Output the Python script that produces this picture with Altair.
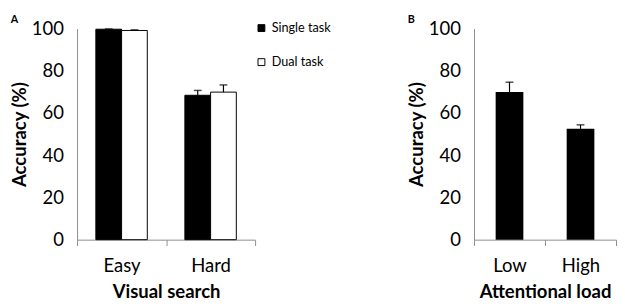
import altair as alt
import pandas as pd

# Panel A data
cond_a = ["Easy", "Easy", "Hard", "Hard"]
task_a = ["Single task", "Dual task", "Single task", "Dual task"]
acc_a = [99.7, 99.1, 68.4, 69.9]
err_a = [0.1, 0.3, 2.3, 3.4]

# Panel B data
cond_b = ["Low", "High"]
acc_b = [70.0, 52.5]
err_b = [4.6, 1.9]

tasks = ["Single task", "Dual task"]
FONT = "Lato"
GRAY = "#8c8c8c"

df_a = pd.DataFrame({"cond": cond_a, "task": task_a, "acc": acc_a, "err": err_a})
df_a["hi"] = df_a["acc"] + df_a["err"]
df_b = pd.DataFrame({"cond": cond_b, "acc": acc_b, "err": err_b})
df_b["hi"] = df_b["acc"] + df_b["err"]

yscale = alt.Scale(domain=[0, 100])
yaxis = alt.Axis(values=[0, 20, 40, 60, 80, 100], grid=False, ticks=False,
                 domainColor=GRAY, labelFont=FONT, labelFontSize=19, labelColor="black",
                 labelPadding=14, title="Accuracy (%)", titleFont=FONT, titleFontSize=19,
                 titleFontWeight="bold", titleColor="black", titlePadding=2)


def xaxis(title):
    return alt.Axis(title=title, labelAngle=0, tickBand="extent", tickSize=6,
                    tickColor=GRAY, domainColor=GRAY, labelFont=FONT, labelFontSize=19,
                    labelColor="black", labelPadding=12, titleFont=FONT, titleFontSize=19,
                    titleFontWeight="bold", titleColor="black", titlePadding=7)


xa = alt.X("cond:N", sort=["Easy", "Hard"], scale=alt.Scale(paddingInner=0, paddingOuter=0),
           axis=xaxis("Visual search"))
xoff = alt.XOffset("task:N", sort=tasks, scale=alt.Scale(paddingOuter=0.73, paddingInner=0))

base_a = alt.Chart(df_a)
bars_a = base_a.mark_bar(stroke="black", strokeWidth=1).encode(
    x=xa, xOffset=xoff,
    y=alt.Y("acc:Q", scale=yscale, axis=yaxis),
    fill=alt.Fill("task:N", sort=tasks,
                  scale=alt.Scale(domain=tasks, range=["black", "white"]),
                  legend=alt.Legend(title=None, orient="none", legendX=183, legendY=-7,
                                    symbolType="square", symbolSize=50,
                                    symbolStrokeColor="black", symbolStrokeWidth=1,
                                    labelFont=FONT, labelFontSize=13, labelColor="black",
                                    labelOffset=4, rowPadding=21)),
)
rule_a = base_a.mark_rule(color="black", strokeWidth=1.2).encode(
    x=xa, xOffset=xoff, y="acc:Q", y2="hi:Q")
cap_a = base_a.mark_tick(color="black", size=8, thickness=1.5).encode(
    x=xa, xOffset=xoff, y="hi:Q")

panel_a = alt.layer(bars_a, rule_a, cap_a).properties(
    width=183, height=217,
    title=alt.TitleParams("A", anchor="start", frame="bounds", font=FONT, fontSize=11,
                          fontWeight="bold", color="black", offset=-5))

xb = alt.X("cond:N", sort=["Low", "High"], scale=alt.Scale(paddingInner=0, paddingOuter=0),
           axis=xaxis("Attentional load"))
base_b = alt.Chart(df_b)
bars_b = base_b.mark_bar(color="black", width={"band": 0.39}).encode(
    x=xb, y=alt.Y("acc:Q", scale=yscale, axis=yaxis))
rule_b = base_b.mark_rule(color="black", strokeWidth=1.2).encode(x=xb, y="acc:Q", y2="hi:Q")
cap_b = base_b.mark_tick(color="black", size=8, thickness=1.5).encode(x=xb, y="hi:Q")

panel_b = alt.layer(bars_b, rule_b, cap_b).properties(
    width=146, height=217,
    title=alt.TitleParams("B", anchor="start", frame="bounds", font=FONT, fontSize=11,
                          fontWeight="bold", color="black", offset=-5))

chart = alt.hconcat(panel_a, panel_b, spacing=155).properties(
    padding={"left": 2, "top": 2, "right": 0, "bottom": 0}).configure_view(stroke=None)

chart.save("out.html", embed_options={"renderer": "svg", "actions": False})
